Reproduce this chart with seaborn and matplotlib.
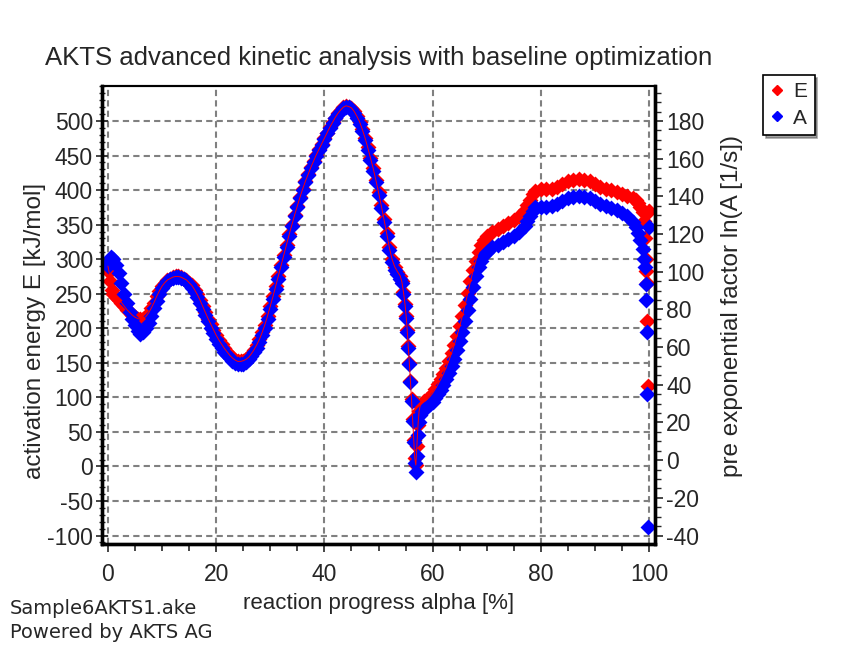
"""
AKTS kinetic analysis chart: activation energy E and ln(A) versus
reaction progress, drawn on twin y axes.
"""

import matplotlib
matplotlib.use("Agg")
import matplotlib.pyplot as plt
from matplotlib.ticker import MultipleLocator
import seaborn as sns
import pandas as pd

# ---- data -----------------------------------------------------------------
# blue series: ln(A) on the right axis
alpha_A = [0.0, 0.3, 0.6, 1.0, 1.5, 2.0, 2.5, 3.0, 3.5, 4.0, 4.5, 5.0, 5.5, 6.0,
           6.5, 7.0, 7.5, 8.0, 8.5, 9.0, 9.5, 10.0, 10.5, 11.0, 11.5, 12.0,
           12.5, 13.0, 13.5, 14.0, 14.5, 15.0, 15.5, 16.0, 16.5, 17.0, 17.5,
           18.0, 18.5, 19.0, 19.5, 20.0, 20.5, 21.0, 21.5, 22.0, 22.5, 23.0,
           23.5, 24.0, 24.5, 25.0, 25.5, 26.0, 26.5, 27.0, 27.5, 28.0, 28.5,
           29.0, 29.5, 30.0, 30.5, 31.0, 31.5, 32.0, 32.5, 33.0, 33.5, 34.0,
           34.5, 35.0, 35.5, 36.0, 36.5, 37.0, 37.5, 38.0, 38.5, 39.0, 39.5,
           40.0, 40.5, 41.0, 41.5, 42.0, 42.5, 43.0, 43.5, 44.0, 44.5, 45.0,
           45.5, 46.0, 46.5, 47.0, 47.5, 48.0, 48.5, 49.0, 49.5, 50.0, 50.5,
           51.0, 51.5, 52.0, 52.5, 53.0, 53.5, 54.0, 54.3, 54.6, 54.9, 55.1,
           55.3, 55.5, 55.7, 55.9, 56.1, 56.3, 56.5, 56.7, 56.9, 57.1, 57.3,
           57.5, 57.7, 58.0, 58.5, 59.0, 59.5, 60.0, 60.5, 61.0, 61.5, 62.0,
           62.5, 63.0, 63.5, 64.0, 64.5, 65.0, 65.5, 66.0, 66.5, 67.0, 67.5,
           68.0, 68.5, 69.0, 69.5, 70.0, 71.0, 72.0, 73.0, 74.0, 75.0, 76.0,
           77.0, 77.5, 78.0, 78.5, 79.0, 80.0, 81.0, 82.0, 83.0, 84.0, 85.0,
           86.0, 87.0, 88.0, 89.0, 90.0, 91.0, 92.0, 93.0, 94.0, 95.0, 96.0,
           97.0, 97.5, 98.0, 98.4, 98.8, 99.1, 99.3, 99.4, 99.5, 99.6, 99.7,
           99.8, 100.0]
lnA = [103.0, 105.9, 107.8, 106.7, 103.7, 99.3, 93.8, 88.3, 83.2, 78.8, 75.1,
       71.5, 68.5, 67.1, 67.8, 70.0, 72.9, 76.6, 80.6, 84.7, 88.3, 91.3, 93.5,
       94.9, 96.0, 96.8, 97.1, 97.1, 96.8, 96.0, 94.9, 93.5, 91.6, 89.4, 86.5,
       83.6, 80.3, 77.0, 73.7, 70.4, 67.4, 64.5, 61.9, 59.7, 57.5, 55.7, 54.2,
       52.8, 51.7, 50.9, 50.9, 51.3, 52.0, 53.5, 55.3, 57.2, 59.7, 62.7, 66.3,
       70.4, 75.1, 80.3, 85.4, 90.9, 96.4, 102.3, 107.8, 113.3, 118.8, 124.3,
       129.4, 134.2, 138.9, 143.3, 147.4, 151.4, 155.1, 158.4, 161.7, 164.6,
       167.5, 170.5, 173.4, 176.3, 178.9, 181.5, 183.7, 185.5, 187.0, 187.7,
       187.3, 186.2, 184.4, 181.8, 178.5, 174.5, 169.7, 164.6, 159.1, 153.6,
       147.4, 140.8, 133.8, 126.5, 119.1, 111.4, 105.2, 101.2, 98.6, 96.4,
       93.8, 88.3, 81.7, 75.5, 68.2, 59.7, 50.9, 41.4, 31.5, 20.9, 9.5, -1.5,
       -6.3, 2.2, 13.2, 20.5, 24.2, 26.0, 27.1, 28.2, 29.7, 31.1, 33.0, 35.2,
       37.4, 39.9, 42.9, 46.2, 49.8, 53.9, 58.3, 63.0, 68.2, 73.7, 79.5, 85.8,
       92.0, 97.5, 102.3, 105.9, 108.9, 110.7, 112.9, 114.4, 115.8, 117.3,
       119.1, 121.3, 124.3, 126.8, 129.4, 132.3, 134.2, 134.5, 134.5, 134.9,
       136.0, 137.5, 138.9, 139.7, 140.0, 139.7, 138.9, 137.5, 136.0, 134.9,
       133.8, 132.7, 131.2, 129.4, 126.5, 123.9, 120.6, 116.9, 112.2, 106.7,
       102.3, 93.5, 85.0, 68.2, 35.2, -35.6, 123.5]

# red series: activation energy E [kJ/mol] on the left axis
alpha_E = [0.0, 0.2, 0.4, 0.7, 1.0, 1.5, 2.0, 2.5, 3.0, 3.5, 4.0, 4.5, 5.0, 5.5,
           6.0, 6.5, 7.0, 7.5, 8.0, 8.5, 9.0, 9.5, 10.0, 10.5, 11.0, 11.5,
           12.0, 12.5, 13.0, 13.5, 14.0, 14.5, 15.0, 15.5, 16.0, 16.5, 17.0,
           17.5, 18.0, 18.5, 19.0, 19.5, 20.0, 20.5, 21.0, 21.5, 22.0, 22.5,
           23.0, 23.5, 24.0, 24.5, 25.0, 25.5, 26.0, 26.5, 27.0, 27.5, 28.0,
           28.5, 29.0, 29.5, 30.0, 30.5, 31.0, 31.5, 32.0, 32.5, 33.0, 33.5,
           34.0, 34.5, 35.0, 35.5, 36.0, 36.5, 37.0, 37.5, 38.0, 38.5, 39.0,
           39.5, 40.0, 40.5, 41.0, 41.5, 42.0, 42.5, 43.0, 43.5, 44.0, 44.5,
           45.0, 45.5, 46.0, 46.5, 47.0, 47.5, 48.0, 48.5, 49.0, 49.5, 50.0,
           50.5, 51.0, 51.5, 52.0, 52.5, 53.0, 53.5, 54.0, 54.3, 54.6, 54.9,
           55.1, 55.3, 55.5, 55.7, 55.9, 56.1, 56.3, 56.5, 56.7, 56.9, 57.1,
           57.3, 57.5, 57.7, 58.0, 58.5, 59.0, 59.5, 60.0, 60.5, 61.0, 61.5,
           62.0, 62.5, 63.0, 63.5, 64.0, 64.5, 65.0, 65.5, 66.0, 66.5, 67.0,
           67.5, 68.0, 68.5, 69.0, 69.5, 70.0, 71.0, 72.0, 73.0, 74.0, 75.0,
           76.0, 77.0, 77.5, 78.0, 78.5, 79.0, 80.0, 81.0, 82.0, 83.0, 84.0,
           85.0, 86.0, 87.0, 88.0, 89.0, 90.0, 91.0, 92.0, 93.0, 94.0, 95.0,
           96.0, 97.0, 97.5, 98.0, 98.4, 98.8, 99.1, 100.0,
           99.3, 99.4, 99.5, 99.6, 99.7, 99.8]
E = [290, 282, 268, 256, 249, 245, 241, 237, 232, 227, 223, 219, 216, 214,
     213, 214, 217, 222, 229, 237, 246, 254, 261, 266, 270, 272, 274, 275, 275,
     274, 272, 270, 266, 262, 256, 249, 241, 232, 223, 214, 206, 198, 190, 183,
     177, 171, 166, 161, 157, 154, 152, 152, 153, 155, 158, 163, 169, 176, 184,
     194, 205, 218, 232, 246, 261, 276, 291, 306, 321, 336, 350, 364, 377, 390,
     402, 413, 423, 433, 442, 451, 459, 467, 475, 483, 491, 498, 505, 511, 516,
     520, 522, 521, 519, 514, 507, 499, 488, 476, 462, 447, 432, 415, 397, 378,
     358, 338, 317, 300, 289, 282, 276, 268, 253, 235, 218, 198, 175, 150, 124,
     97, 68, 38, 12, 2, 30, 60, 80, 88, 91, 94, 97, 101, 106, 112, 119, 126,
     134, 143, 153, 164, 176, 189, 203, 218, 234, 251, 268, 284, 298, 310, 320,
     328, 334, 340, 344, 348, 352, 357, 363, 371, 378, 386, 394, 399, 401, 401,
     402, 405, 409, 413, 415, 416, 415, 413, 409, 405, 402, 400, 397, 395, 392,
     388, 385, 381, 376, 368, 355, 370,
     330, 300, 283, 266, 210, 117]

x_ticks = [0, 20, 40, 60, 80, 100]
e_ticks = [-100, -50, 0, 50, 100, 150, 200, 250, 300, 350, 400, 450, 500]
a_ticks = [-40, -20, 0, 20, 40, 60, 80, 100, 120, 140, 160, 180]

RED = "#ff0000"
BLUE = "#0000ff"
GRID = "#808080"


def main():
    sns.set_theme(style="white")
    plt.rcParams["font.family"] = ["Liberation Sans", "DejaVu Sans"]
    plt.rcParams["axes.unicode_minus"] = False

    df_e = pd.DataFrame({"alpha": alpha_E, "E": E})
    df_a = pd.DataFrame({"alpha": alpha_A, "lnA": lnA})

    fig = plt.figure(figsize=(8.49, 6.48), dpi=100)
    ax = fig.add_axes([102 / 849, 1 - 544 / 648, 553 / 849, 458 / 648])
    ax2 = ax.twinx()

    # dashed grid
    for xv in x_ticks:
        ax.axvline(xv, color=GRID, lw=1.5, ls=(0, (3, 2)), zorder=0)
    for yv in e_ticks:
        ax.axhline(yv, color=GRID, lw=1.5, ls=(0, (3, 2)), zorder=0)

    sns.scatterplot(data=df_e, x="alpha", y="E", ax=ax, color=RED, marker="D",
                    s=66, linewidth=0, legend=False)
    sns.scatterplot(data=df_a, x="alpha", y="lnA", ax=ax2, color=BLUE,
                    marker="D", s=66, linewidth=0, legend=False)
    # thin red trace drawn above the blue markers
    n_main = len(alpha_E) - 7
    ax2.plot(alpha_E[:n_main], E[:n_main], color=RED, lw=0.7,
             transform=ax.transData)

    ax.set_xlim(-1.1, 101.1)
    ax.set_ylim(-112.3, 550.7)
    ax2.set_ylim(-44.5, 198.6)

    ax.set_xticks(x_ticks)
    ax.set_yticks(e_ticks)
    ax2.set_yticks(a_ticks)
    ax.xaxis.set_minor_locator(MultipleLocator(5))
    ax.yaxis.set_minor_locator(MultipleLocator(10))
    ax2.yaxis.set_minor_locator(MultipleLocator(5))

    ax.tick_params(axis="x", which="major", direction="out", length=6,
                   width=1.2, labelsize=16.5, pad=8, bottom=True)
    ax.tick_params(axis="x", which="minor", direction="out", length=5,
                   width=1.2, bottom=True)
    ax.tick_params(axis="y", which="major", direction="inout", length=9,
                   width=1.2, labelsize=16.5, pad=2, left=True)
    ax.tick_params(axis="y", which="minor", direction="inout", length=5,
                   width=1.0, left=True)
    ax2.tick_params(axis="y", which="major", direction="out", length=6,
                    width=1.2, labelsize=16.5, pad=2, right=True)
    ax2.tick_params(axis="y", which="minor", direction="out", length=4,
                    width=1.0, right=True)

    for a in (ax, ax2):
        for side in ("left", "bottom", "right"):
            a.spines[side].set_linewidth(2.4)
            a.spines[side].set_color("black")
        a.spines["top"].set_linewidth(1.5)
        a.spines["top"].set_color("black")

    ax.set_xlabel("reaction progress alpha [%]", fontsize=16, va="center")
    ax.xaxis.set_label_coords(0.5, (544 - 603) / 458)
    ax.set_ylabel("activation energy E [kJ/mol]", fontsize=17.5, va="center")
    ax.yaxis.set_label_coords((35 - 102) / 553, (544 - 331) / 458)
    ax2.set_ylabel("pre exponential factor ln(A [1/s])", fontsize=17.5,
                   va="center")
    ax2.yaxis.set_label_coords((732 - 102) / 553, (544 - 306) / 458)

    fig.text(379 / 849, 1 - 58 / 648,
             "AKTS advanced kinetic analysis with baseline optimization",
             ha="center", va="center", fontsize=18.5)
    fig.text(10 / 849, 1 - 608 / 648, "Sample6AKTS1.ake", ha="left",
             va="center", fontsize=14, family="DejaVu Sans")
    fig.text(10 / 849, 1 - 632 / 648, "Powered by AKTS AG", ha="left",
             va="center", fontsize=14, family="DejaVu Sans")

    handles = [
        plt.Line2D([], [], color=RED, marker="D", ls="", markersize=5.5),
        plt.Line2D([], [], color=BLUE, marker="D", ls="", markersize=5.5),
    ]
    leg = fig.legend(handles, ["E", "A"], loc="upper left",
                     bbox_to_anchor=(763 / 849, 1 - 75 / 648), fontsize=15,
                     frameon=True, fancybox=False, shadow=True,
                     handlelength=0.6, handletextpad=0.5, borderpad=0.35,
                     labelspacing=0.35, borderaxespad=0)
    leg.get_frame().set_edgecolor("black")
    leg.get_frame().set_linewidth(1.2)

    fig.savefig("out.png", dpi=100)
    plt.close(fig)


if __name__ == "__main__":
    main()
